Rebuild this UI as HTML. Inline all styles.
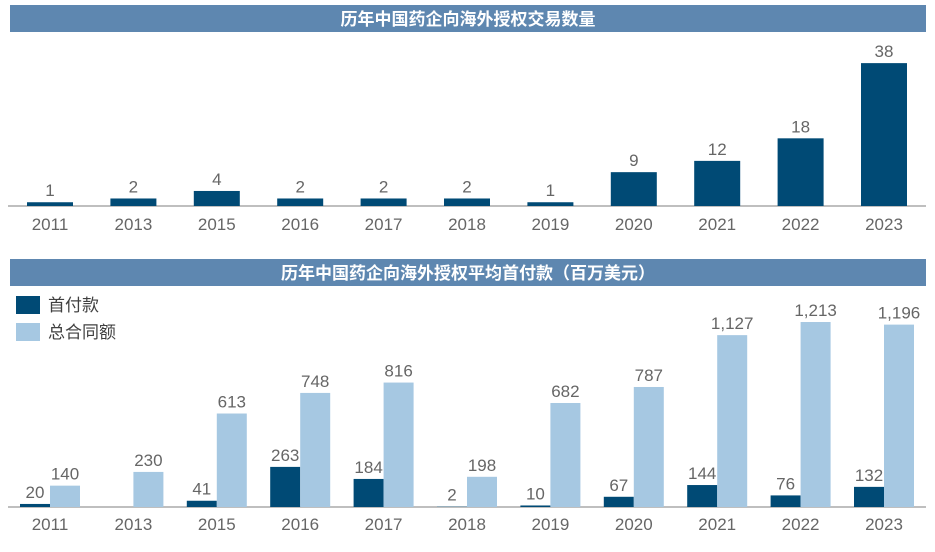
<!DOCTYPE html>
<html><head><meta charset="utf-8"><style>
body{margin:0;width:935px;height:547px;background:#fff;overflow:hidden;font-family:"Liberation Sans","Noto Sans CJK SC",sans-serif}
svg text{font-family:"Liberation Sans","Noto Sans CJK SC",sans-serif}
</style></head><body>
<svg id="c" width="935" height="547"></svg>
<script>
const years=["2011","2013","2015","2016","2017","2018","2019","2020","2021","2022","2023"];
const dealCounts=[1,2,4,2,2,2,1,9,12,18,38];
const upfront=[20,null,41,263,184,2,10,67,144,76,132];
const totalValue=[140,230,613,748,816,198,682,787,1127,1213,1196];
const NS="http://www.w3.org/2000/svg";
const svg=document.getElementById('c');
function mk(t,a,p){const e=document.createElementNS(NS,t);for(const k in a)e.setAttribute(k,a[k]);(p||svg).appendChild(e);return e;}
const cx=i=>50+i*83.4;
const y1=v=>206-v*3.76;
const y2=v=>507-v*0.1525;
const fmt=v=>v.toLocaleString('en-US');
let t=mk('rect',{x:10,y:5,width:916,height:27,fill:'#5E87B0'});


t=mk('text',{x:468,y:25,'text-anchor':'middle',fill:'#fff','font-size':17,'font-weight':'bold'});t.textContent='历年中国药企向海外授权交易数量';


t=mk('rect',{x:10,y:259,width:916,height:27,fill:'#5E87B0'});


t=mk('text',{x:468,y:279,'text-anchor':'middle',fill:'#fff','font-size':17,'font-weight':'bold'});t.textContent='历年中国药企向海外授权平均首付款（百万美元）';


t=mk('line',{x1:8,x2:926,y1:206,y2:206,stroke:'#7f7f7f','stroke-width':1});


t=mk('line',{x1:8,x2:926,y1:507,y2:507,stroke:'#7f7f7f','stroke-width':1});


years.forEach((yr,i)=>{
  const c=cx(i);
  let b=mk('rect',{x:c-23,y:y1(dealCounts[i]),width:46,height:206-y1(dealCounts[i]),fill:'#004A75'});
  
  
  let l=mk('text',{x:c,y:y1(dealCounts[i])-6,'text-anchor':'middle',fill:'#666','font-size':17});l.textContent=dealCounts[i];
  
  
  l=mk('text',{x:c,y:230,'text-anchor':'middle',fill:'#666','font-size':17});l.textContent=yr;
  
  
  if(upfront[i]!=null){
    b=mk('rect',{x:c-30,y:y2(upfront[i]),width:30,height:507-y2(upfront[i]),fill:'#004A75'});
    
    
    l=mk('text',{x:c-15,y:y2(upfront[i])-6,'text-anchor':'middle',fill:'#666','font-size':17});l.textContent=fmt(upfront[i]);
    
    
  }
  b=mk('rect',{x:c,y:y2(totalValue[i]),width:30,height:507-y2(totalValue[i]),fill:'#A6C8E2'});
  
  
  l=mk('text',{x:c+15,y:y2(totalValue[i])-6,'text-anchor':'middle',fill:'#666','font-size':17});l.textContent=fmt(totalValue[i]);
  
  
  l=mk('text',{x:c,y:530,'text-anchor':'middle',fill:'#666','font-size':17});l.textContent=yr;
  
  
});
t=mk('rect',{x:16,y:296,width:24,height:18,fill:'#004A75'});


t=mk('text',{x:48,y:311,fill:'#404040','font-size':17});t.textContent='首付款';


t=mk('rect',{x:16,y:323,width:24,height:18,fill:'#A6C8E2'});


t=mk('text',{x:48,y:338,fill:'#404040','font-size':17});t.textContent='总合同额';


</script>
</body></html>
